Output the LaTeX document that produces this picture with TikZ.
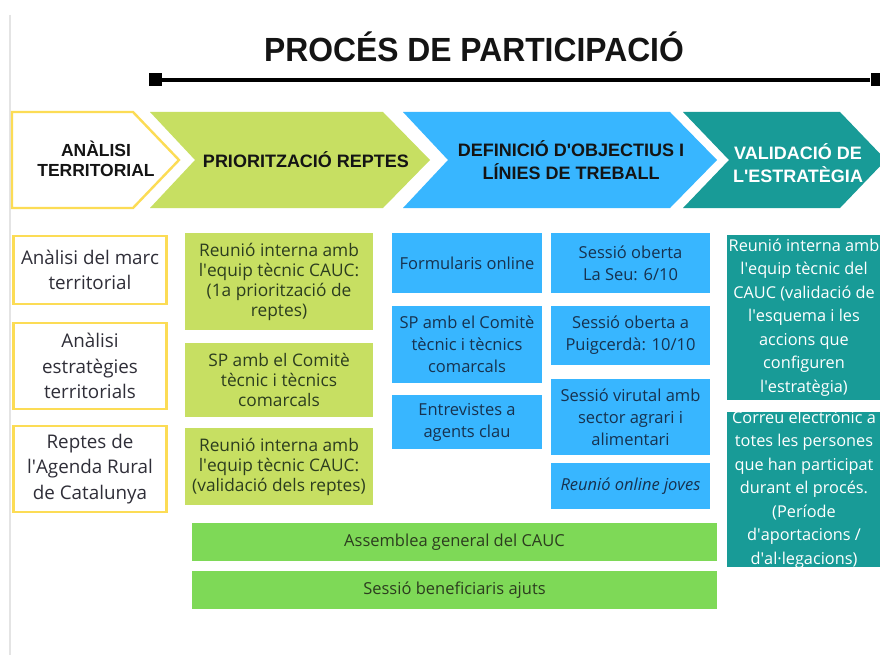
\documentclass[tikz,border=0pt]{standalone}
\usepackage{fontspec}
\setmainfont{Open Sans}
\newfontfamily\headfont{Liberation Sans}
\newfontfamily\titlefont[FakeStretch=0.95]{Liberation Sans}
\newcommand\apo{\textquotesingle}
\definecolor{ylw}{HTML}{FCDC55}
\definecolor{grn}{HTML}{C7DF62}
\definecolor{blu}{HTML}{38B6FF}
\definecolor{tea}{HTML}{189B97}
\definecolor{brg}{HTML}{7ED957}
\definecolor{edge}{HTML}{E4E4E4}
\definecolor{txg}{HTML}{2C3D1F}
\definecolor{txb}{HTML}{17324F}
\definecolor{txy}{HTML}{2F2E38}
\definecolor{txh}{HTML}{141414}
\begin{document}
\begin{tikzpicture}[x=1pt,y=-1pt,
  cell/.style={inner sep=0pt, align=center, anchor=center},
  ybox/.style={cell, draw=ylw, line width=2.6pt, fill=white, text=txy, minimum width=153, font=\fontsize{18.8}{25.5}\selectfont},
  gbox/.style={cell, fill=grn, text=txg, minimum width=188, font=\fontsize{17.3}{20}\selectfont},
  bbox/.style={cell, fill=blu, text=txb, font=\fontsize{16.5}{22}\selectfont},
  tbox/.style={cell, fill=tea, minimum width=160},
  ttext/.style={cell, text=white, font=\fontsize{16.3}{23.5}\selectfont},
  bar/.style={cell, fill=brg, text=txg, minimum width=525, minimum height=38, font=\fontsize{16.5}{20}\selectfont},
  head/.style={cell, text=txh, font=\headfont\bfseries\fontsize{18}{23}\selectfont},
  endsq/.style={fill=black, inner sep=0pt, minimum size=13}]
\fill[white] (0,0) rectangle (880,655);
\useasboundingbox (0,0) rectangle (880,655);
\clip (0,0) rectangle (880,655);
\draw[edge, line width=2pt] (9.5,15) -- (9.5,655);

% title and time line
\node[cell, text=txh, font=\titlefont\bfseries\fontsize{33.5}{36}\selectfont] (title) at (474,47) {PROCÉS DE PARTICIPACIÓ};
\node[endsq] (ls) at (155,80) {};
\node[endsq] (le) at (877,80) {};
\draw[line width=4pt] (ls) -- (le);

% chevrons
\filldraw[fill=white, draw=ylw, line width=2.4pt, line join=miter] (12,112) -- (133,112) -- (179,160) -- (133,208) -- (12,208) -- cycle;
\fill[grn] (150,112) -- (383,112) -- (430,160) -- (383,208) -- (150,208) -- (195,160) -- cycle;
\fill[blu] (403,112) -- (670,112) -- (717,160) -- (670,208) -- (403,208) -- (448,160) -- cycle;
\fill[tea] (683,112) -- (840,112) -- (886,160) -- (840,208) -- (683,208) -- (729,160) -- cycle;
\node[head, font=\headfont\bfseries\fontsize{17.5}{20}\selectfont] (h1) at (96,159) {ANÀLISI\\TERRITORIAL};
\node[head] (h2) at (306,160) {PRIORITZACIÓ REPTES};
\node[head] (h3) at (571,160) {DEFINICIÓ D'OBJECTIUS I\\LÍNIES DE TREBALL};
\node[head, text=white] (h4) at (798,163) {VALIDACIÓ DE\\L'ESTRATÈGIA};

% yellow column
\node[ybox, minimum height=68] (y1) at (90,270) {Anàlisi del marc\\territorial};
\node[ybox, minimum height=86] (y2) at (90,366) {Anàlisi\\estratègies\\territorials};
\node[ybox, minimum height=86] (y3) at (90,469) {Reptes de\\l\apo Agenda Rural\\de Catalunya};

% green column
\node[gbox, minimum height=97] (g1) at (279,281.5) {Reunió interna amb\\l\apo equip tècnic CAUC:\\(1a priorització de\\reptes)};
\node[gbox, minimum height=74] (g2) at (279,380) {SP amb el Comitè\\tècnic i tècnics\\comarcals};
\node[gbox, minimum height=77] (g3) at (279,466.5) {Reunió interna amb\\l\apo equip tècnic CAUC:\\(validació dels reptes)};

% blue columns
\node[bbox, minimum width=150, minimum height=60] (b1) at (467,263) {Formularis online};
\node[bbox, minimum width=150, minimum height=77] (b2) at (467,344.5) {SP amb el Comitè\\tècnic i tècnics\\comarcals};
\node[bbox, minimum width=150, minimum height=54] (b3) at (467,422) {Entrevistes a\\agents clau};
\node[bbox, minimum width=159, minimum height=60] (r1) at (630.5,263) {Sessió oberta\\La Seu: 6/10};
\node[bbox, minimum width=159, minimum height=59] (r2) at (630.5,335.5) {Sessió oberta a\\Puigcerdà: 10/10};
\node[bbox, minimum width=159, minimum height=76] (r3) at (630.5,417) {Sessió virutal amb\\sector agrari i\\alimentari};
\node[bbox, minimum width=159, minimum height=46] (r4) at (630.5,486) {\itshape Reunió online joves};

% teal column
\node[tbox, minimum height=165] (t1) at (807,317.5) {};
\node[ttext] (t1t) at (804,317.5) {Reunió interna amb\\l\apo equip tècnic del\\CAUC (validació de\\l\apo esquema i les\\accions que\\configuren\\l\apo estratègia)};
\node[tbox, minimum height=155] (t2) at (807,489.5) {};
\node[ttext] (t2t) at (804,489.5) {Correu electrònic a\\totes les persones\\que han participat\\durant el procés.\\(Període\\d\apo aportacions /\\d\apo al·legacions)};

% bars
\node[bar] (a1) at (454.5,542) {Assemblea general del CAUC};
\node[bar] (a2) at (454.5,590) {Sessió beneficiaris ajuts};
\end{tikzpicture}
\end{document}
